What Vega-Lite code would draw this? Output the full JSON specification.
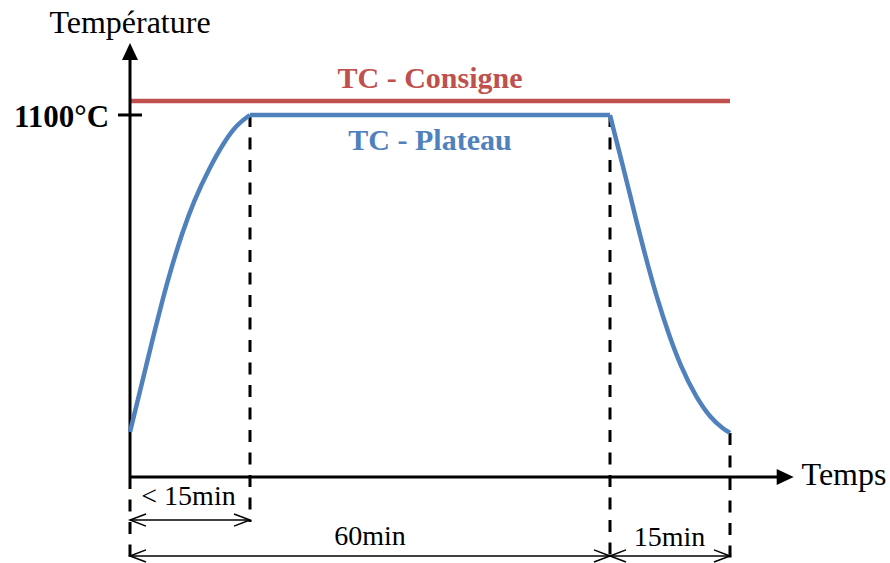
{
  "$schema": "https://vega.github.io/schema/vega-lite/v6.json",
  "width": 890,
  "height": 563,
  "autosize": "none",
  "padding": 0,
  "background": "white",
  "config": {"view": {"stroke": null}},
  "datasets": {
    "curve": [
      {"seg": "rise", "t": 0, "T": 137},
      {"seg": "rise", "t": 1.0, "T": 236},
      {"seg": "rise", "t": 2.0, "T": 336},
      {"seg": "rise", "t": 3.0, "T": 436},
      {"seg": "rise", "t": 4.05, "T": 537},
      {"seg": "rise", "t": 5.2, "T": 638},
      {"seg": "rise", "t": 6.5, "T": 740},
      {"seg": "rise", "t": 8.0, "T": 840},
      {"seg": "rise", "t": 9.9, "T": 938},
      {"seg": "rise", "t": 11.8, "T": 1020},
      {"seg": "rise", "t": 13.4, "T": 1072},
      {"seg": "rise", "t": 15, "T": 1100},
      {"seg": "plateau", "t": 15, "T": 1100},
      {"seg": "plateau", "t": 60, "T": 1100},
      {"seg": "fall", "t": 60, "T": 1100},
      {"seg": "fall", "t": 60.3, "T": 1070},
      {"seg": "fall", "t": 61.63, "T": 943},
      {"seg": "fall", "t": 62.66, "T": 842},
      {"seg": "fall", "t": 63.69, "T": 740},
      {"seg": "fall", "t": 64.78, "T": 639},
      {"seg": "fall", "t": 65.95, "T": 538},
      {"seg": "fall", "t": 67.29, "T": 437},
      {"seg": "fall", "t": 68.85, "T": 335},
      {"seg": "fall", "t": 70.8, "T": 240},
      {"seg": "fall", "t": 72.6, "T": 178},
      {"seg": "fall", "t": 74.2, "T": 145},
      {"seg": "fall", "t": 75, "T": 134}
    ],
    "axes": [
      {"t": 0, "t2": 0, "T": 0, "T2": 1267},
      {"t": 0, "t2": 80.9, "T": 0, "T2": 0},
      {"t": -1.5, "t2": 1.5, "T": 1100, "T2": 1100}
    ],
    "consigne": [
      {"t": 0, "t2": 75, "T": 1142.5, "T2": 1142.5}
    ],
    "dashed": [
      {"t": 15, "t2": 15, "T": 1100, "T2": -136.7},
      {"t": 0, "t2": 0, "T": 0, "T2": -246},
      {"t": 60, "t2": 60, "T": 1100, "T2": -246},
      {"t": 75, "t2": 75, "T": 134, "T2": -246}
    ],
    "spans": [
      {"t": 0, "t2": 15, "T": -130.7, "T2": -130.7},
      {"t": 0, "t2": 60, "T": -240, "T2": -240},
      {"t": 60, "t2": 75, "T": -240, "T2": -240}
    ],
    "leftHeads": [
      {"t": 0, "T": -130.7},
      {"t": 0, "T": -240},
      {"t": 60, "T": -240}
    ],
    "rightHeads": [
      {"t": 15, "T": -130.7},
      {"t": 60, "T": -240},
      {"t": 75, "T": -240}
    ],
    "yHead": [{"t": 0, "T": 1293}],
    "xHead": [{"t": 81.9, "T": 0}],
    "labelsBig": [
      {"label": "Température", "t": 0, "T": 1349.2},
      {"label": "Temps", "t": 89.25, "T": -24.3}
    ],
    "labelsSmall": [
      {"label": "< 15min", "t": 7.31, "T": -85.1},
      {"label": "60min", "t": 30, "T": -206.6},
      {"label": "15min", "t": 67.44, "T": -209.7}
    ],
    "labelTick": [{"label": "1100°C", "t": -8.56, "T": 1063.5}],
    "labelConsigne": [{"label": "TC - Consigne", "t": 37.5, "T": 1182}],
    "labelPlateau": [{"label": "TC - Plateau", "t": 37.5, "T": 993.6}]
  },
  "encoding": {
    "x": {"field": "t", "type": "quantitative", "scale": {"domain": [-16.25, 95], "nice": false, "zero": false}, "axis": null},
    "y": {"field": "T", "type": "quantitative", "scale": {"domain": [-261.3, 1449.4], "nice": false, "zero": false}, "axis": null}
  },
  "layer": [
    {
      "data": {"name": "consigne"},
      "mark": {"type": "rule", "color": "#C0504D", "strokeWidth": 4.5},
      "encoding": {"x2": {"field": "t2"}, "y2": {"field": "T2"}}
    },
    {
      "data": {"name": "dashed"},
      "mark": {"type": "rule", "color": "black", "strokeWidth": 3, "strokeDash": [12, 10.5]},
      "encoding": {"x2": {"field": "t2"}, "y2": {"field": "T2"}}
    },
    {
      "data": {"name": "axes"},
      "mark": {"type": "rule", "color": "black", "strokeWidth": 3},
      "encoding": {"x2": {"field": "t2"}, "y2": {"field": "T2"}}
    },
    {
      "data": {"name": "spans"},
      "mark": {"type": "rule", "color": "black", "strokeWidth": 1.5},
      "encoding": {"x2": {"field": "t2"}, "y2": {"field": "T2"}}
    },
    {
      "data": {"name": "curve"},
      "mark": {"type": "line", "color": "#4F81BD", "strokeWidth": 4.5, "interpolate": "basis"},
      "encoding": {"detail": {"field": "seg"}}
    },
    {
      "data": {"name": "leftHeads"},
      "mark": {"type": "point", "shape": "M 1 -0.38 L 0 0 L 1 0.38", "size": 1024, "filled": false, "stroke": "black", "strokeWidth": 1.5, "opacity": 1}
    },
    {
      "data": {"name": "rightHeads"},
      "mark": {"type": "point", "shape": "M -1 -0.38 L 0 0 L -1 0.38", "size": 1024, "filled": false, "stroke": "black", "strokeWidth": 1.5, "opacity": 1}
    },
    {
      "data": {"name": "yHead"},
      "mark": {"type": "point", "shape": "M -0.94 1 L 0 -1 L 0.94 1 Z", "size": 289, "filled": true, "color": "black", "opacity": 1}
    },
    {
      "data": {"name": "xHead"},
      "mark": {"type": "point", "shape": "M -1 -0.94 L 1 0 L -1 0.94 Z", "size": 289, "filled": true, "color": "black", "opacity": 1}
    },
    {
      "data": {"name": "labelsBig"},
      "mark": {"type": "text", "font": "Liberation Serif", "fontSize": 32, "align": "center", "baseline": "alphabetic", "color": "black"},
      "encoding": {"text": {"field": "label"}}
    },
    {
      "data": {"name": "labelsSmall"},
      "mark": {"type": "text", "font": "Liberation Serif", "fontSize": 28, "align": "center", "baseline": "alphabetic", "color": "black"},
      "encoding": {"text": {"field": "label"}}
    },
    {
      "data": {"name": "labelTick"},
      "mark": {"type": "text", "font": "Liberation Serif", "fontSize": 31, "fontWeight": "bold", "align": "center", "baseline": "alphabetic", "color": "black"},
      "encoding": {"text": {"field": "label"}}
    },
    {
      "data": {"name": "labelConsigne"},
      "mark": {"type": "text", "font": "Liberation Serif", "fontSize": 30, "fontWeight": "bold", "align": "center", "baseline": "alphabetic", "color": "#C0504D"},
      "encoding": {"text": {"field": "label"}}
    },
    {
      "data": {"name": "labelPlateau"},
      "mark": {"type": "text", "font": "Liberation Serif", "fontSize": 30, "fontWeight": "bold", "align": "center", "baseline": "alphabetic", "color": "#4F81BD"},
      "encoding": {"text": {"field": "label"}}
    }
  ]
}
